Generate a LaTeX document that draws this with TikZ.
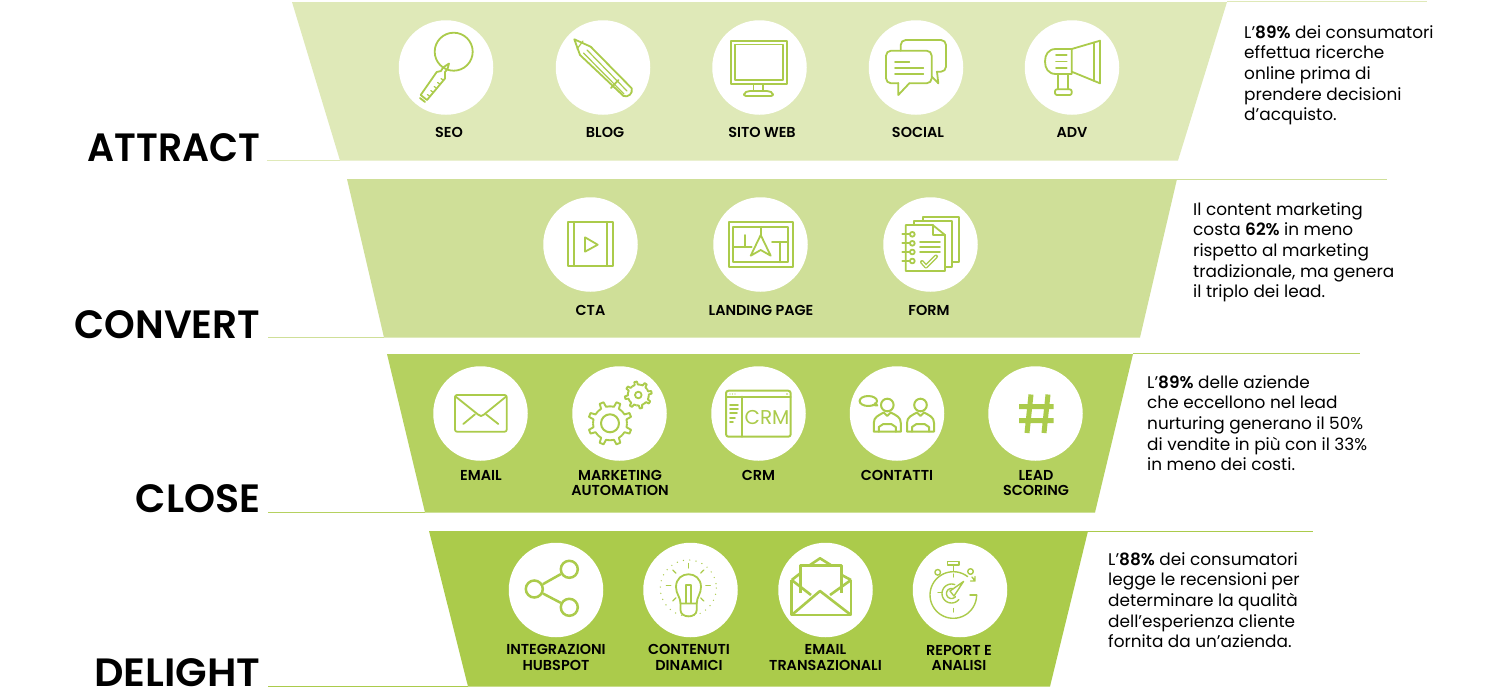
\documentclass[tikz,border=0pt]{standalone}
\usepackage{fontspec}
\usepackage{graphicx}
\setmainfont{Poppins}[BoldFont={Poppins SemiBold}]
\definecolor{gA}{HTML}{DFE9B8}
\definecolor{gB}{HTML}{CFDF98}
\definecolor{gC}{HTML}{B5D160}
\definecolor{gD}{HTML}{ABCB4B}
\definecolor{ink}{HTML}{ABCB4B}
\tikzset{
  disc/.style={circle,fill=white,minimum size=94.5pt,inner sep=0pt},
  lab/.style={font=\bfseries\fontsize{14.4}{15.6}\selectfont,align=center,text=black,inner sep=0pt},
  big/.style={font=\bfseries\fontsize{39.5}{41}\selectfont,anchor=base east,inner sep=0pt,text=black},
  side/.style={font=\fontsize{16.9}{20.7}\selectfont,align=left,anchor=north west,inner sep=0pt,text=black},
  ic/.style={draw=ink,line width=1.8pt,line join=round,line cap=round},
  icb/.style={draw=ink,line width=2.6pt,line join=round},
  ict/.style={draw=ink,line width=1.2pt,line join=round,line cap=round},
}
\newcommand{\gearicon}[6]{% cx cy rout rroot n rotate
  \foreach \i in {1,...,#5}{
    \pgfmathsetmacro{\st}{360/#5}
    \pgfmathsetmacro{\aa}{#6+\i*\st}
    \draw[icb,line width=1.9pt]
      ({#1+#4*cos(\aa)},{#2+#4*sin(\aa)})
      -- ({#1+#4*cos(\aa+.3*\st)},{#2+#4*sin(\aa+.3*\st)})
      -- ({#1+#3*cos(\aa+.38*\st)},{#2+#3*sin(\aa+.38*\st)})
      -- ({#1+#3*cos(\aa+.62*\st)},{#2+#3*sin(\aa+.62*\st)})
      -- ({#1+#4*cos(\aa+.7*\st)},{#2+#4*sin(\aa+.7*\st)})
      -- ({#1+#4*cos(\aa+\st)},{#2+#4*sin(\aa+\st)});
  }}
\newcommand{\personicon}[1]{%
  \draw[ic,line width=2pt] (#1,405) circle[radius=6.3];
  \draw[ic,line width=2pt] (#1-13.5,431.7) -- (#1-13.5,423) .. controls (#1-13.5,417) and (#1-9,415.5) .. (#1-3.5,412.5) -- (#1,416) -- (#1+3.5,412.5) .. controls (#1+9,415.5) and (#1+13.5,417) .. (#1+13.5,423) -- (#1+13.5,431.7) -- cycle;
  \draw[ic,line width=2pt] (#1-8.5,431.7) -- (#1-8.5,427) -- (#1-4,424) -- (#1+4,424) -- (#1+8.5,427) -- (#1+8.5,431.7);
}
\begin{document}
\begin{tikzpicture}[x=1pt,y=-1pt]
\useasboundingbox (0,0) rectangle (1500,691);
\fill[white] (0,0) rectangle (1500,691);
% bands
\fill[gA] (292,2) -- (1227,2) -- (1178,160.5) -- (340,160.5) -- cycle;
\fill[gB] (347,179) -- (1177,179) -- (1140,337.5) -- (384,337.5) -- cycle;
\fill[gC] (387,354) -- (1133,354) -- (1095,512.5) -- (425,512.5) -- cycle;
\fill[gD] (429,531) -- (1088,531) -- (1050,686.5) -- (468,686.5) -- cycle;
% leader lines
\draw[gA,line width=1pt] (1227,1.5) -- (1427,1.5) (267,160.5) -- (340,160.5);
\draw[gB,line width=1pt] (1177,179) -- (1387,179) (268,337.5) -- (384,337.5);
\draw[gC,line width=1pt] (1133,353.7) -- (1360,353.7) (268,512.5) -- (425,512.5);
\draw[gD,line width=1pt] (1088,531) -- (1313,531) (268,686.5) -- (468,686.5);
% titles
\node[big] (tA) at (260.5,161) {\scalebox{0.955}[1]{ATTRACT}};
\node[big] (tB) at (260.5,338) {\scalebox{0.99}[1]{CONVERT}};
\node[big] (tC) at (260.5,512) {CLOSE};
\node[big] (tD) at (260.5,686) {\scalebox{1.04}[1]{DELIGHT}};
% discs
\foreach \n/\x/\y in {seo/446/67.5,blog/603/67.5,web/759.5/67.5,social/916/67.5,adv/1072/67.5,
  cta/590.5/244.5,landing/760.5/244.5,form/930.5/244.5,
  email/480.5/413.5,auto/619.5/413.5,crm/758.5/413.5,cont/897/413.5,score/1035.5/413.5,
  hub/556/590,dyn/690.5/590,trans/825.5/590,rep/960/590}
  \node[disc] (\n) at (\x,\y) {};
% labels
\node[lab] (lseo) at (449,132.5) {SEO};
\node[lab] (lblog) at (605,132.5) {BLOG};
\node[lab] (lweb) at (762,132.5) {SITO WEB};
\node[lab] (lsoc) at (918,132.5) {SOCIAL};
\node[lab] (ladv) at (1072,132.5) {ADV};
\node[lab] (lcta) at (590.5,310.5) {CTA};
\node[lab] (llan) at (761,310.5) {LANDING PAGE};
\node[lab] (lfor) at (929,310.5) {FORM};
\node[lab] (lem) at (481,475.5) {EMAIL};
\node[lab] (lma) at (620,483) {MARKETING\\AUTOMATION};
\node[lab] (lcr) at (758.5,475.5) {CRM};
\node[lab] (lco) at (897,475.5) {CONTATTI};
\node[lab] (lle) at (1036,483) {LEAD\\SCORING};
\node[lab] (lin) at (556,657.5) {INTEGRAZIONI\\HUBSPOT};
\node[lab] (lcn) at (689,657.5) {CONTENUTI\\DINAMICI};
\node[lab] (ltr) at (825.5,657.5) {EMAIL\\TRANSAZIONALI};
\node[lab] (lre) at (959,658) {REPORT E\\ANALISI};
% side texts
\node[side] (sA) at (1244,25) {L’\textbf{89\%} dei consumatori\\effettua ricerche\\online prima di\\prendere decisioni\\d’acquisto.};
\node[side] (sB) at (1193,202) {Il content marketing\\costa \textbf{62\%} in meno\\rispetto al marketing\\tradizionale, ma genera\\il triplo dei lead.};
\node[side] (sC) at (1147,375) {L’\textbf{89\%} delle aziende\\che eccellono nel lead\\nurturing generano il 50\%\\di vendite in più con il 33\%\\in meno dei costi.};
\node[side] (sD) at (1108,552) {L’\textbf{88\%} dei consumatori\\legge le recensioni per\\determinare la qualità\\dell'esperienza cliente\\fornita da un'azienda.};
% SEO
\draw[ic] (453.7,51.7) circle[radius=19];
\draw[ic] (449,63.5) -- (447.5,69) -- (445,72) -- (445,78.5) -- (427,100) -- (420.7,95) -- (436.7,72) -- (441,71) -- (443,67.5) -- cycle;
\draw[ic] (420,98) -- (425,102);
\foreach \t in {0,1,2,3,4}
  \draw[ict] ({443-\t*3.4},{80+\t*4}) -- ({441-\t*3.4},{78.5+\t*4});
% BLOG
\draw[ic] (574.3,39.3) -- (590.7,46.7) -- (631.7,88.3) .. controls (633,94) and (628,97.5) .. (623.5,96) -- (580,55) -- cycle;
\draw[ict] (577,49) -- (583,41);
\draw[ict] (587,50) -- (627,91) (583.5,53) -- (624,94);
\draw[ic] (618.5,80) -- (611,88);
% WEB
\draw[ic] (730.7,40.7) rectangle (787,84);
\draw[ic] (735,44.5) rectangle (783,80);
\draw[ic] (753.5,84) -- (753.5,91) (763,84) -- (763,91);
\draw[ic,rounded corners=2pt] (744,96) -- (744,93) -- (748,91) -- (769,91) -- (773,93) -- (773,96) -- cycle;
% SOCIAL
\draw[ic,rounded corners=5pt] (909.3,83.3) -- (931.7,83.3) -- (931.7,50.7) -- (886,50.7) -- (886,83.3) -- (898.3,83.3);
\draw[ic] (898.3,83) -- (898.3,95) -- (909.3,83.3);
\draw[ic,rounded corners=5pt] (900.7,50.7) -- (900.7,40) -- (946,40) -- (946,71.7) -- (936.7,71.7);
\draw[ic] (931.7,76.5) -- (938.3,83.3) -- (937,71.7);
\draw[ic] (895,61.7) -- (909.3,61.7) (895,67.7) -- (923.3,67.7) (895,74) -- (923.3,74);
% ADV
\draw[ic] (1071.7,49) -- (1056,49) .. controls (1048,49) and (1045,55) .. (1045,61.5) .. controls (1045,68) and (1048,74) .. (1056,74) -- (1071.7,74) -- cycle;
\draw[ic] (1071.7,49) -- (1100,40.7) -- (1100,83.3) -- (1071.7,71.7);
\draw[ic] (1094,42.5) -- (1094,81);
\draw[ic] (1056,55) -- (1066.7,55) (1056,61.5) -- (1066.7,61.5) (1056,68) -- (1066.7,68);
\draw[ic] (1058.3,74) -- (1058.3,89.3) (1068.3,74) -- (1068.3,89.3);
\draw[ic,rounded corners=2pt] (1055,89.3) rectangle (1071.7,95);
% CTA
\draw[ic] (568.3,221.7) rectangle (612.7,266);
\draw[ic] (574.3,221.7) -- (574.3,266) (606.7,221.7) -- (606.7,266);
\draw[ic] (585,237.3) -- (597.7,244.7) -- (585,251.7) -- cycle;
% LANDING
\draw[ic] (729,222.3) rectangle (792.7,267.3);
\draw[ic] (733.3,227.3) rectangle (788.3,262.3);
\draw[ic] (760.7,227.3) -- (760.7,235) (745,235) -- (745,247.3) (733.3,247.3) -- (751.7,247.3) (772,241.7) -- (788.3,241.7) (780,241.7) -- (780,262.3);
\draw[ic] (760.7,235) -- (750.7,255.7) -- (760.7,250) -- (770.7,255.7) -- cycle;
% FORM
\draw[ic] (905.7,225) -- (932.7,225) -- (945,235) -- (945,271) -- (905.7,271) -- cycle;
\draw[ic] (932.7,225) -- (932.7,235) -- (945,235);
\draw[ic] (914.3,225) -- (914.3,220.7) -- (952.3,220.7) -- (952.3,266.7) -- (945,266.7);
\draw[ic] (923.3,220.7) -- (923.3,216.7) -- (959.3,216.7) -- (959.3,261.7) -- (952.3,261.7);
\foreach \y in {234.3,243.3,252,261}{
  \draw[ic] (912.3,\y) circle[radius=2.4];
  \draw[ic] (902.3,\y) -- (909.9,\y);}
\draw[ic] (920,241.7) -- (940,241.7) (920,247) -- (940,247) (920,252.3) -- (940,252.3);
\draw[ic,line width=4pt] (922,262) -- (926,266.5) -- (936,256.5);
\draw[white,line width=1.2pt] (922,262) -- (926,266.5) -- (936,256.5);
% EMAIL
\draw[ic,rounded corners=2pt] (455,395) rectangle (506.7,431.7);
\draw[ic] (455.5,396.5) -- (478,414.5) .. controls (480,416.5) and (482,416.5) .. (484,414.5) -- (506.2,396.5);
\draw[ic] (463.3,424) -- (475,414.3) (498.3,424) -- (486,414.3);
% GEARS
\gearicon{610}{423.3}{22}{17}{8}{0}
\draw[ic,line width=2pt] (610,423.3) circle[radius=9];
\gearicon{638.3}{395}{13.5}{10.5}{8}{11}
\draw[ic,line width=1.8pt] (638.3,395) circle[radius=3.3];
% CRM
\draw[ic,line width=2pt,rounded corners=2.5pt] (726,390.7) rectangle (790.7,436.7);
\draw[ic,line width=2pt] (726,396.7) -- (790.7,396.7) (741.7,396.7) -- (741.7,436.7);
\foreach \x in {730,732.5,735} \fill[ink] (\x,394) circle[radius=.6];
\fill[ink] (787,394) circle[radius=.8];
\foreach \y/\w in {405/738,409.3/738,413.3/737,417.7/735,421.7/733}
  \draw[ic] (730,\y) -- (\w,\y);
\node[font=\fontsize{20}{21}\selectfont,text=ink,inner sep=0pt] (crmt) at (767,417) {CRM};
% CONTATTI
\draw[ic,line width=2pt] (868.3,401) ellipse[x radius=8.7,y radius=5];
\draw[ic,line width=2pt] (873,405) -- (877.3,405.5) -- (875,403);
\personicon{887.3}
\personicon{920.5}
% SCORE
\draw[ink,line width=5pt] (1031,394.5) -- (1027,433) (1048,394.5) -- (1044,433)
  (1019,406.7) -- (1053.5,406.7) (1019,420.7) -- (1053.5,420.7);
% SHARE
\node[circle,draw=ink,line width=2.5pt,minimum size=17pt,inner sep=0pt] (s1) at (534.3,589) {};
\node[circle,draw=ink,line width=2.5pt,minimum size=17pt,inner sep=0pt] (s2) at (569.3,569.3) {};
\node[circle,draw=ink,line width=2.5pt,minimum size=17pt,inner sep=0pt] (s3) at (569.3,607.3) {};
\draw[ink,line width=2.5pt] (s1) -- (s2) (s1) -- (s3);
% BULB
\draw[ic] (680.5,603.5) .. controls (680.5,597) and (676,594) .. (676,587) .. controls (676,570) and (701,570) .. (701,587) .. controls (701,594) and (696.7,597) .. (696.7,603.5) -- cycle;
\draw[ic] (680.5,603.5) -- (680.5,610) .. controls (680.5,618.5) and (696.7,618.5) .. (696.7,610) -- (696.7,603.5);
\draw[ic] (686,603) -- (686,585) -- (691,585) -- (691,603);
\foreach \a in {-135,-90,-45,0,180,45,135}
  \draw[ict] ({688.3+17.5*cos(\a)},{585.5+17.5*sin(\a)}) -- ({688.3+22*cos(\a)},{585.5+22*sin(\a)});
\foreach \a in {0,13,...,359}
  \fill[ink] ({688.3+28*cos(\a)},{588+28*sin(\a)}) circle[radius=.7];
% TRANS
\draw[icb] (791.7,580) -- (791.7,615) -- (851,615) -- (851,580);
\draw[icb] (791.7,615) -- (820,591) -- (851,615);
\draw[icb] (791.7,580) -- (811,595) (851,580) -- (830,595);
\draw[icb] (800.7,593) -- (800.7,565.7) -- (841.7,565.7) -- (841.7,593);
\draw[icb] (810,565) -- (820,558.3) -- (830.7,565);
\draw[icb] (791.7,580) -- (800.7,573) (851,580) -- (841.7,575);
% STOPWATCH
\draw[ict,line width=1.4pt] plot[smooth,domain=52:360,samples=50] ({953.3+23.3*cos(\x)},{595-23.3*sin(\x)});
\draw[ict,line width=1.4pt] (976.6,595) -- (970,595);
\draw[ict,line width=1.4pt] (947.5,561.5) rectangle (959,565) (953.3,565) -- (953.3,571.5);
\draw[ict,line width=1.4pt] (937.7,572.3) circle[radius=2.8] (970.5,571.5) circle[radius=2.8];
\draw[ict,line width=1.4pt] (972,577) -- (975,581) -- (975,576.5) (975,581) -- (970.5,581);
\draw[ict,line width=1.4pt] (953.3,574) -- (953.3,577) (938,592.5) -- (942,592.5) (953.3,608.5) -- (953.3,612);
\draw[ict,line width=1.4pt] plot[smooth,domain=70:320,samples=30] ({951.5+9.5*cos(\x)},{593.5-9.5*sin(\x)});
\draw[ict,line width=1.4pt] plot[smooth,domain=70:320,samples=30] ({951.5+5*cos(\x)},{593.5-5*sin(\x)});
\draw[ict,line width=1.4pt] (963.5,581.5) -- (950,591) -- (954,596) -- cycle;
\end{tikzpicture}
\end{document}
